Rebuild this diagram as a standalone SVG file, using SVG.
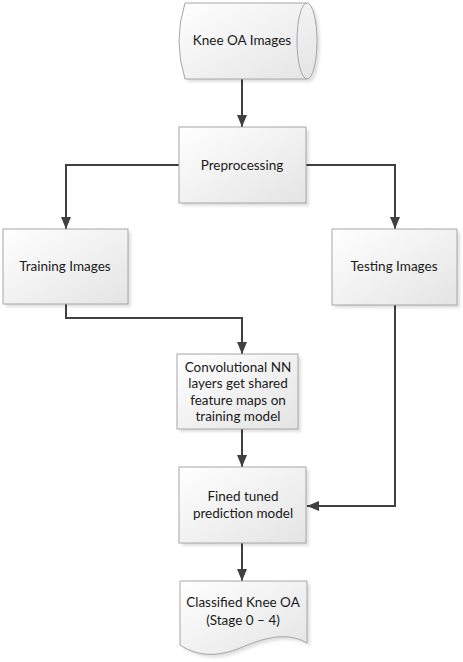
<svg xmlns="http://www.w3.org/2000/svg" width="463" height="662" viewBox="0 0 463 662">
<style>
.box{fill:url(#g);stroke:#a6a6a6;stroke-width:1}
.sh{fill:#000;opacity:0.12;filter:url(#b)}
.t{font-family:Lato,"Liberation Sans",sans-serif;font-size:13.5px;fill:#1a1a1a;text-anchor:middle}
.c{fill:none;stroke:#404040;stroke-width:2}
</style>
<defs>
<linearGradient id="g" x1="0" y1="0" x2="1" y2="1">
<stop offset="0" stop-color="#ffffff"/>
<stop offset="1" stop-color="#e4e4e4"/>
</linearGradient>
<filter id="b" x="-10%" y="-10%" width="130%" height="130%"><feGaussianBlur stdDeviation="1.5"/></filter>
<marker id="a" viewBox="0 0 12 10" refX="12" refY="5" markerWidth="12" markerHeight="10" markerUnits="userSpaceOnUse" orient="auto">
<path d="M0,0 L12,5 L0,10 Z" fill="#404040"/>
</marker>
</defs>
<rect width="463" height="662" fill="#ffffff"/>
<g id="connectors">
<path class="c" d="M242,79 V127" marker-end="url(#a)"/>
<path class="c" d="M179,165 H66 V229" marker-end="url(#a)"/>
<path class="c" d="M306,165 H395 V229" marker-end="url(#a)"/>
<path class="c" d="M66,304 V318 H242 V354" marker-end="url(#a)"/>
<path class="c" d="M242,429 V467" marker-end="url(#a)"/>
<path class="c" d="M395,305 V506 H307" marker-end="url(#a)"/>
<path class="c" d="M242,543 V581" marker-end="url(#a)"/>
</g>
<g id="knee-oa-images">
<path class="sh" d="M188,6 H310 A10,38 0 0 1 310,82 H188 Q176,44 188,6 Z"/>
<path class="box" d="M185,3 H307 A10,38 0 0 1 307,79 H185 Q173,41 185,3 Z"/>
<path fill="none" stroke="#a6a6a6" d="M307,3 A10,38 0 0 0 307,79"/>
<text class="t" x="242" y="45">Knee OA Images</text>
</g>
<g id="preprocessing">
<rect class="sh" x="182" y="130" width="127" height="76"/>
<rect class="box" x="179" y="127" width="127" height="76"/>
<text class="t" x="242" y="170">Preprocessing</text>
</g>
<g id="training-images">
<rect class="sh" x="6" y="232" width="125" height="75"/>
<rect class="box" x="3" y="229" width="125" height="75"/>
<text class="t" x="65" y="271">Training Images</text>
</g>
<g id="testing-images">
<rect class="sh" x="335" y="232" width="125" height="76"/>
<rect class="box" x="332" y="229" width="125" height="76"/>
<text class="t" x="394" y="271">Testing Images</text>
</g>
<g id="convolutional">
<rect class="sh" x="180" y="357" width="121" height="75"/>
<rect class="box" x="177" y="354" width="121" height="75"/>
<text class="t" x="238" y="372">Convolutional NN</text>
<text class="t" x="238" y="388">layers get shared</text>
<text class="t" x="238" y="405">feature maps on</text>
<text class="t" x="238" y="421">training model</text>
</g>
<g id="fine-tuned">
<rect class="sh" x="182" y="470" width="127" height="76"/>
<rect class="box" x="179" y="467" width="127" height="76"/>
<text class="t" x="243" y="501">Fined tuned</text>
<text class="t" x="243" y="518">prediction model</text>
</g>
<g id="classified">
<path class="sh" d="M183,584 H310 V646 C288,633 262,643 243,651 C223,659 203,661 183,648 Z"/>
<path class="box" d="M180,581 H307 V643 C285,630 259,640 240,648 C220,656 200,658 180,645 Z"/>
<text class="t" x="243" y="607">Classified Knee OA</text>
<text class="t" x="243" y="625">(Stage 0 – 4)</text>
</g>
</svg>
